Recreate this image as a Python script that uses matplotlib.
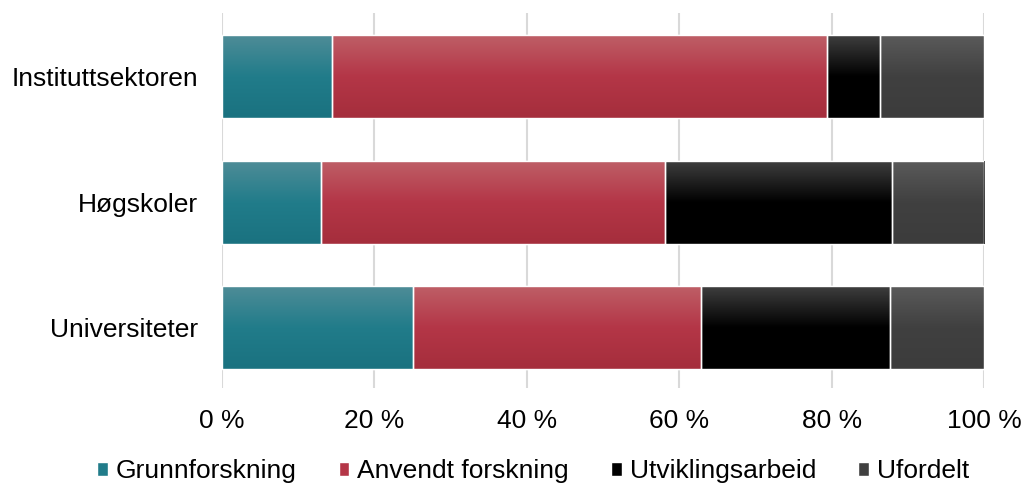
import numpy as np
import matplotlib.pyplot as plt
from matplotlib.colors import LinearSegmentedColormap

plt.rcParams['font.family'] = ['Liberation Sans', 'DejaVu Sans']

# data (share of R&D, per cent)
categories = ['Universiteter', 'Høgskoler', 'Instituttsektoren']
series = ['Grunnforskning', 'Anvendt forskning', 'Utviklingsarbeid', 'Ufordelt']
grunn = [25.1, 13.0, 14.4]
anvendt = [37.8, 45.1, 65.0]
utvikling = [24.8, 29.8, 7.0]
ufordelt = [12.3, 12.1, 13.6]
xticks = [0, 20, 40, 60, 80, 100]

# gradient colours top -> middle -> bottom
grads = [
    ['#4e8c97', '#217c8a', '#1a7280'],
    ['#be5e66', '#b43647', '#a52e3c'],
    ['#3e3e3e', '#000000', '#000000'],
    ['#5a5a5a', '#404040', '#3c3c3c'],
]
legend_cols = ['#217c8a', '#b43647', '#000000', '#404040']

fig = plt.figure(figsize=(10.23, 4.86), dpi=100)
ax = fig.add_axes([0.217, 0.202, 0.745, 0.772])

y = np.arange(len(categories))
left = np.zeros(len(categories))
height = 0.66
for vals, g, name, lc in zip([grunn, anvendt, utvikling, ufordelt], grads, series, legend_cols):
    bars = ax.barh(y, vals, left=left, height=height, color=lc,
                   edgecolor='white', linewidth=1.0, label=name, zorder=2)
    cmap = LinearSegmentedColormap.from_list('g', g)
    grad = np.linspace(0, 1, 100).reshape(-1, 1)
    for b in bars:
        x0, y0 = b.get_x(), b.get_y()
        w, h = b.get_width(), b.get_height()
        im = ax.imshow(grad, cmap=cmap, aspect='auto', extent=[x0, x0 + w, y0, y0 + h],
                       origin='upper', zorder=2.5)
        im.set_clip_path(b)
        ax.barh(y0 + h / 2, w, left=x0, height=h, fill=False,
                edgecolor='white', linewidth=1.0, zorder=3)
    left = np.round(left + np.array(vals), 6)

ax.set_xlim(0, 100)
ax.set_ylim(-0.48, 2.51)
ax.set_xticks(xticks)
ax.set_xticklabels([f'{t} %' for t in xticks], fontsize=19)
ax.set_yticks(y)
ax.set_yticklabels(categories, fontsize=19)
ax.tick_params(axis='x', length=0, pad=15)
ax.tick_params(axis='y', length=0, pad=17)
ax.xaxis.grid(True, color='#d9d9d9', linewidth=1.5, zorder=0)
ax.set_axisbelow(True)
for s in ax.spines.values():
    s.set_visible(False)

h, l = ax.get_legend_handles_labels()
fig.legend(h, l, loc='center', bbox_to_anchor=(0.521, 0.03), ncol=4, frameon=False,
           fontsize=19, handlelength=0.4, handleheight=0.4, handletextpad=0.3,
           columnspacing=1.6, borderpad=0.2)

fig.savefig('out.png', dpi=100)
